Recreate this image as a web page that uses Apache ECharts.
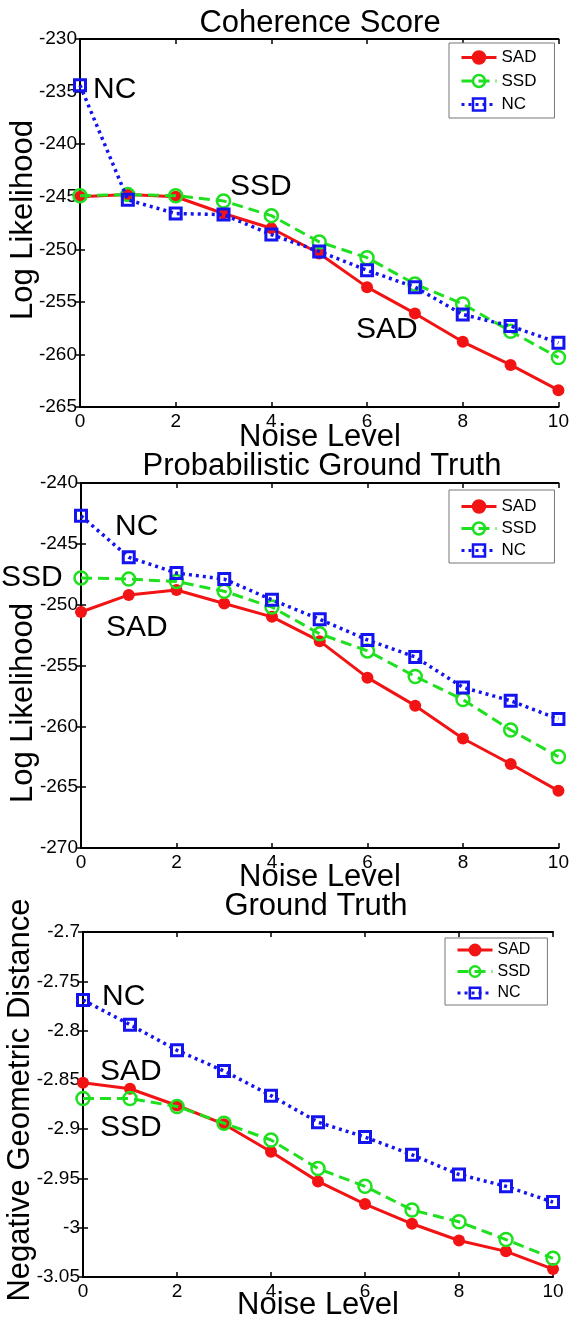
<!DOCTYPE html>
<html>
<head>
<meta charset="utf-8">
<script src="https://cdn.jsdelivr.net/npm/echarts@6/dist/echarts.min.js"></script>
<style>
  html, body { margin: 0; padding: 0; background: #fff; }
  #chart { width: 572px; height: 1323px; }
</style>
</head>
<body>
<div id="chart"></div>
<script>
// noise levels (x axis)
const noise = [0, 1, 2, 3, 4, 5, 6, 7, 8, 9, 10]

// Coherence Score
const cohSAD = [-245.0, -244.8, -245.0, -246.6, -248.0, -250.4, -253.6, -256.1, -258.8, -261.0, -263.4]
const cohSSD = [-244.9, -244.8, -244.9, -245.4, -246.8, -249.3, -250.8, -253.3, -255.2, -257.8, -260.3]
const cohNC = [-234.4, -245.3, -246.6, -246.7, -248.6, -250.2, -252.0, -253.6, -256.2, -257.3, -258.9]

// Probabilistic Ground Truth
const pgtSAD = [-250.6, -249.2, -248.8, -249.9, -251.0, -253.0, -256.0, -258.3, -261.0, -263.1, -265.3]
const pgtSSD = [-247.8, -247.9, -248.1, -248.9, -250.2, -252.4, -253.8, -255.9, -257.8, -260.3, -262.5]
const pgtNC = [-242.7, -246.1, -247.4, -247.9, -249.6, -251.2, -252.9, -254.3, -256.8, -257.9, -259.4]

// Ground Truth
const gtSAD = [-2.853, -2.859, -2.876, -2.895, -2.923, -2.953, -2.976, -2.996, -3.013, -3.024, -3.042]
const gtSSD = [-2.869, -2.869, -2.877, -2.894, -2.911, -2.940, -2.958, -2.982, -2.994, -3.012, -3.031]
const gtNC = [-2.769, -2.794, -2.820, -2.841, -2.866, -2.893, -2.908, -2.926, -2.946, -2.958, -2.974]

const methods = ['SAD', 'SSD', 'NC']

const FONT = '"Liberation Sans", Arial, Helvetica, sans-serif'
const RED = '#f21414'
const GREEN = '#1fe01f'
const BLUE = '#1414f0'

const chart = echarts.init(document.getElementById('chart'))

// grid boxes (px)
const grids = [
  { left: 80, top: 39, width: 481, height: 368 },
  { left: 81, top: 483, width: 480, height: 365 },
  { left: 83, top: 932, width: 470, height: 345 }
]

const yRanges = [
  { min: -265, max: -230, interval: 5 },
  { min: -270, max: -240, interval: 5 },
  { min: -3.05, max: -2.7, interval: 0.05 }
]

const xAxes = []
const yAxes = []
grids.forEach((g, i) => {
  // bottom axis with labels
  xAxes.push({
    gridIndex: i, type: 'value', min: 0, max: 10, interval: 2, position: 'bottom',
    axisLine: { lineStyle: { color: '#000', width: 2 } },
    axisTick: { inside: true, length: 5, lineStyle: { color: '#000', width: 1.5 } },
    axisLabel: { color: '#000', fontSize: 19, fontFamily: FONT, margin: 5 },
    splitLine: { show: false }
  })
  // top mirror axis
  xAxes.push({
    gridIndex: i, type: 'value', min: 0, max: 10, interval: 2, position: 'top',
    axisLine: { lineStyle: { color: '#000', width: 2 } },
    axisTick: { inside: true, length: 5, lineStyle: { color: '#000', width: 1.5 } },
    axisLabel: { show: false },
    splitLine: { show: false }
  })
  const r = yRanges[i]
  yAxes.push({
    gridIndex: i, type: 'value', min: r.min, max: r.max, interval: r.interval, position: 'left',
    axisLine: { show: true, lineStyle: { color: '#000', width: 2 } },
    axisTick: { show: true, inside: true, length: 5, lineStyle: { color: '#000', width: 1.5 } },
    axisLabel: { color: '#000', fontSize: 19, fontFamily: FONT, margin: 3 },
    splitLine: { show: false }
  })
  yAxes.push({
    gridIndex: i, type: 'value', min: r.min, max: r.max, interval: r.interval, position: 'right',
    axisLine: { show: true, lineStyle: { color: '#000', width: 2 } },
    axisTick: { show: true, inside: true, length: 5, lineStyle: { color: '#000', width: 1.5 } },
    axisLabel: { show: false },
    splitLine: { show: false }
  })
})

const pairs = arr => noise.map((x, i) => [x, arr[i]])

const styleSAD = {
  type: 'line', symbol: 'circle', symbolSize: 12,
  lineStyle: { color: RED, width: 3, type: 'solid' },
  itemStyle: { color: RED, borderColor: RED, borderWidth: 0 },
  z: 2
}
const styleSSD = {
  type: 'line', symbol: 'circle', symbolSize: 13,
  lineStyle: { color: GREEN, width: 3, type: [11, 6] },
  itemStyle: { color: 'rgba(255,255,255,0)', borderColor: GREEN, borderWidth: 2.5 },
  z: 3
}
const styleNC = {
  type: 'line', symbol: 'rect', symbolSize: 11,
  lineStyle: { color: BLUE, width: 3.5, type: [3, 4] },
  itemStyle: { color: 'rgba(255,255,255,0)', borderColor: BLUE, borderWidth: 3 },
  z: 4
}

const panelData = [
  [cohSAD, cohSSD, cohNC],
  [pgtSAD, pgtSSD, pgtNC],
  [gtSAD, gtSSD, gtNC]
]
const styles = [styleSAD, styleSSD, styleNC]

const series = []
panelData.forEach((set, gi) => {
  set.forEach((arr, si) => {
    series.push(Object.assign({}, styles[si], {
      name: methods[si],
      xAxisIndex: gi * 2,
      yAxisIndex: gi * 2,
      data: pairs(arr),
      animation: false
    }))
  })
})

const legendBase = {
  orient: 'vertical',
  data: methods,
  itemWidth: 35,
  backgroundColor: '#fff',
  borderColor: '#777',
  borderWidth: 1,
  lineStyle: { width: 3 },
  itemStyle: { borderWidth: 2.5 },
  textStyle: { color: '#000', fontFamily: FONT, fontSize: 17 },
  selectedMode: false
}
const legends = [
  Object.assign({}, legendBase, { left: 449, top: 43, itemHeight: 15, itemGap: 6.5, padding: [6, 18, 5, 11] }),
  Object.assign({}, legendBase, { left: 449, top: 490, itemHeight: 15, itemGap: 5, padding: [8, 18, 4, 11] }),
  Object.assign({}, legendBase, { left: 445, top: 938, itemHeight: 13, itemGap: 5.5, padding: [4, 17, 4, 11],
    textStyle: { color: '#000', fontFamily: FONT, fontSize: 16 } })
]

// text helpers
const txt = (text, x, y, size, align, rot) => ({
  type: 'text', x: x, y: y, rotation: rot || 0,
  style: { text: text, fontSize: size, fontFamily: FONT, fill: '#000',
    textAlign: align || 'center', textVerticalAlign: 'middle' },
  silent: true
})

const graphic = [
  // panel 1
  txt('Coherence Score', 320, 23, 31),
  txt('Log Likelihood', 23, 220, 31, 'center', Math.PI / 2),
  txt('Noise Level', 320, 437, 31),
  txt('NC', 93, 90, 30, 'left'),
  txt('SSD', 230, 187, 30, 'left'),
  txt('SAD', 356, 330, 30, 'left'),
  // panel 2
  txt('Probabilistic Ground Truth', 322, 466, 31),
  txt('Log Likelihood', 23, 703, 31, 'center', Math.PI / 2),
  txt('Noise Level', 320, 877, 31),
  txt('NC', 115, 527, 30, 'left'),
  txt('SSD', 1, 578, 30, 'left'),
  txt('SAD', 106, 628, 30, 'left'),
  // panel 3
  txt('Ground Truth', 316, 906, 31),
  txt('Negative Geometric Distance', 20, 1100, 31, 'center', Math.PI / 2),
  txt('Noise Level', 318, 1305, 31),
  txt('NC', 102, 997, 30, 'left'),
  txt('SAD', 100, 1072, 30, 'left'),
  txt('SSD', 100, 1128, 30, 'left')
]

chart.setOption({
  backgroundColor: '#fff',
  animation: false,
  grid: grids,
  xAxis: xAxes,
  yAxis: yAxes,
  legend: legends,
  series: series,
  graphic: graphic
})
</script>
</body>
</html>
